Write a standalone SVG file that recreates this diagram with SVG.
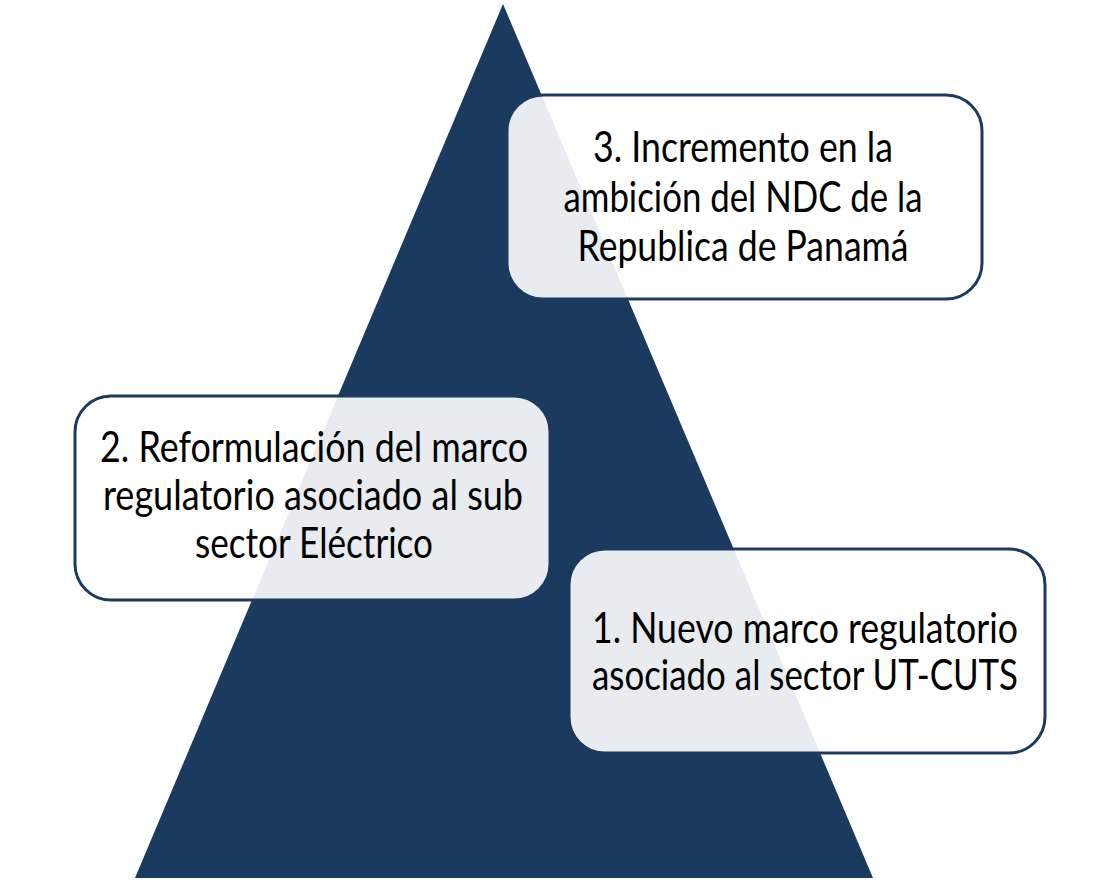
<svg xmlns="http://www.w3.org/2000/svg" width="1096" height="896" viewBox="0 0 1096 896">
<style>
.box{fill:#ffffff;fill-opacity:0.9;stroke:#1c3a5e;stroke-width:3}
.t{font-family:Lato,"Open Sans","Liberation Sans",sans-serif;font-size:42px;fill:#000;text-anchor:middle}
</style>
<rect width="1096" height="896" fill="#ffffff"/>
<g id="pyramid">
<polygon points="503,4 135,878 873,878" fill="#1b3a5f"/>
</g>
<g id="node3">
<rect class="box" x="507" y="95" width="475" height="204" rx="36"/>
<text class="t" x="743" y="162" textLength="300" lengthAdjust="spacingAndGlyphs">3. Incremento en la</text>
<text class="t" x="743" y="212" textLength="359" lengthAdjust="spacingAndGlyphs">ambición del NDC de la</text>
<text class="t" x="743" y="261" textLength="331" lengthAdjust="spacingAndGlyphs">Republica de Panamá</text>
</g>
<g id="node2">
<rect class="box" x="75" y="396" width="475" height="204" rx="36"/>
<text class="t" x="314" y="462" textLength="428" lengthAdjust="spacingAndGlyphs">2. Reformulación del marco</text>
<text class="t" x="313" y="510" textLength="420" lengthAdjust="spacingAndGlyphs">regulatorio asociado al sub</text>
<text class="t" x="314" y="558" textLength="238" lengthAdjust="spacingAndGlyphs">sector Eléctrico</text>
</g>
<g id="node1">
<rect class="box" x="569" y="549" width="476" height="204" rx="36"/>
<text class="t" x="805" y="643" textLength="426" lengthAdjust="spacingAndGlyphs">1. Nuevo marco regulatorio</text>
<text class="t" x="805" y="690" textLength="426" lengthAdjust="spacingAndGlyphs">asociado al sector UT-CUTS</text>
</g>
<g id="connectors"></g>
</svg>
